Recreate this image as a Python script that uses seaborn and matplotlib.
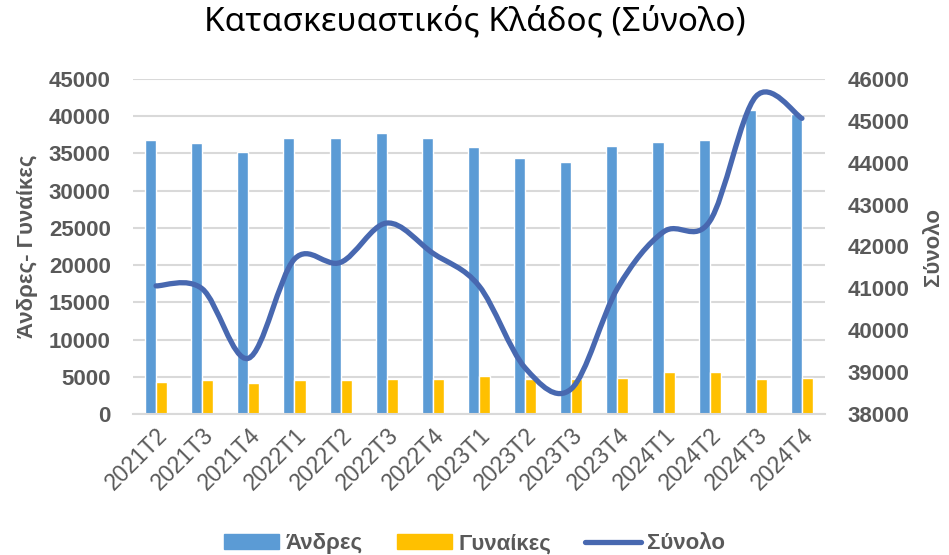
import numpy as np
import pandas as pd
import seaborn as sns
import matplotlib
matplotlib.use("Agg")
from matplotlib import pyplot as plt
from matplotlib.path import Path
from matplotlib.patches import PathPatch, Patch
from matplotlib.lines import Line2D

quarters = ['2021T2', '2021T3', '2021T4', '2022T1', '2022T2', '2022T3', '2022T4',
            '2023T1', '2023T2', '2023T3', '2023T4', '2024T1', '2024T2', '2024T3', '2024T4']
men = [36870, 36430, 35260, 37140, 37060, 37730, 37100, 35850, 34370, 33870,
       36050, 36550, 36770, 40830, 40250]
women = [4240, 4530, 4170, 4560, 4560, 4760, 4680, 5170, 4680, 4720,
         4890, 5650, 5690, 4750, 4780]
total = [41060, 40990, 39330, 41700, 41620, 42560, 41840, 41060, 39100, 38600,
         41000, 42350, 42600, 45580, 45060]

series_names = ['Άνδρες', 'Γυναίκες', 'Σύνολο']
blue = '#5B9BD5'
yellow = '#FFC000'
line_col = '#4868B0'
grey = '#595959'

sns.set_style('white')
plt.rcParams['font.family'] = ['Liberation Sans', 'DejaVu Sans']

df = pd.DataFrame({
    'quarter': quarters * 2,
    'group': [series_names[0]] * len(quarters) + [series_names[1]] * len(quarters),
    'value': men + women,
})

fig = plt.figure(figsize=(9.49, 5.55), dpi=100)
ax = fig.add_axes([133 / 949, 1 - 414 / 555, 692 / 949, 335 / 555])

sns.barplot(data=df, x='quarter', y='value', hue='group', order=quarters,
            palette=[blue, yellow], saturation=1, width=0.48, gap=0,
            legend=False, ax=ax, zorder=2)
ax.set_xlim(-0.5, len(quarters) - 0.5)
ax.set_ylim(0, 45000)
ax.set_yticks(np.arange(0, 45001, 5000))
ax.grid(axis='y', color='#D9D9D9', linewidth=1.5, zorder=0)
ax.set_axisbelow(True)
for s in ['top', 'right', 'left']:
    ax.spines[s].set_visible(False)
ax.spines['bottom'].set_color('#D9D9D9')
ax.spines['bottom'].set_linewidth(1.5)
ax.tick_params(axis='y', length=0, labelsize=16, labelcolor=grey, pad=16)
ax.tick_params(axis='x', length=0, labelsize=16.5, labelcolor=grey, pad=7)
for t in ax.get_yticklabels():
    t.set_fontweight('bold')
plt.setp(ax.get_xticklabels(), rotation=45, ha='right', rotation_mode='anchor')
ax.set_xlabel('')
ax.set_ylabel('Άνδρες- Γυναίκες', fontsize=16, fontweight='bold', color=grey, labelpad=8)

ax2 = ax.twinx()
ax2.set_ylim(38000, 46000)
ax2.set_yticks(np.arange(38000, 46001, 1000))
for s in ax2.spines.values():
    s.set_visible(False)
ax2.tick_params(axis='y', length=0, labelsize=16, labelcolor=grey, pad=16)
for t in ax2.get_yticklabels():
    t.set_fontweight('bold')
ax2.set_ylabel('Σύνολο', fontsize=16, fontweight='bold', color=grey, labelpad=10,
               rotation=90)

# smoothed line (Excel style) through the totals
xs = np.arange(len(total), dtype=float)
ys = np.array(total, dtype=float)
P = np.column_stack([xs, ys])
Pext = np.vstack([P[0], P, P[-1]])
verts = [tuple(P[0])]
codes = [Path.MOVETO]
for i in range(len(P) - 1):
    p0, p1, p2, p3 = Pext[i], Pext[i + 1], Pext[i + 2], Pext[i + 3]
    c1 = p1 + (p2 - p0) / 6.0
    c2 = p2 - (p3 - p1) / 6.0
    verts += [tuple(c1), tuple(c2), tuple(p2)]
    codes += [Path.CURVE4] * 3
ax2.add_patch(PathPatch(Path(verts, codes), facecolor='none', edgecolor=line_col,
                        linewidth=3.8, capstyle='round', zorder=5))

fig.suptitle('Κατασκευαστικός Κλάδος (Σύνολο)', x=0.5, y=0.99, fontsize=24,
             fontfamily=['Noto Sans', 'DejaVu Sans'], color='black')

handles = [Patch(color=blue), Patch(color=yellow),
           Line2D([0], [0], color=line_col, linewidth=3.8, solid_capstyle='round')]
leg = fig.legend(handles, series_names, loc='lower center', bbox_to_anchor=(0.5, -0.035),
                 ncol=3, frameon=False, handlelength=2.5, handleheight=0.7,
                 columnspacing=1.5, handletextpad=0.3,
                 prop={'size': 16, 'weight': 'bold'})
for t in leg.get_texts():
    t.set_color(grey)

fig.savefig('out.png', dpi=100)
